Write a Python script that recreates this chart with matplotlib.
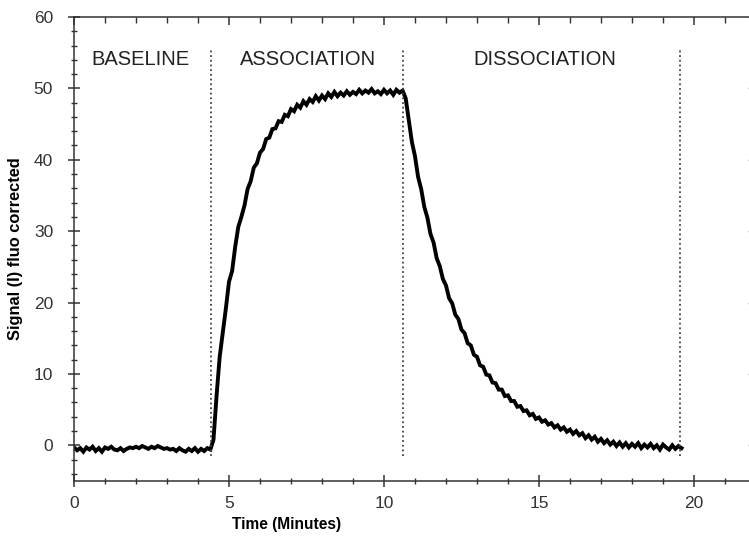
import numpy as np
import matplotlib
matplotlib.use('Agg')
import matplotlib.pyplot as plt
from matplotlib.ticker import MultipleLocator, NullFormatter

# sampled every 0.1 min
baseline_t = np.round(np.arange(0.0, 4.45, 0.1), 1)
baseline_y = [-0.3, -0.7, -0.4, -0.9, -0.3, -0.6, -0.2, -0.8, -0.4, -0.9,
              -0.3, -0.5, -0.2, -0.6, -0.7, -0.4, -0.8, -0.5, -0.3, -0.4,
              -0.2, -0.4, -0.1, -0.3, -0.5, -0.2, -0.4, -0.1, -0.3, -0.5,
              -0.4, -0.6, -0.5, -0.8, -0.4, -0.7, -0.9, -0.5, -0.8, -0.4,
              -0.9, -0.5, -0.8, -0.4, -0.6]

assoc_t = np.round(np.arange(4.5, 10.65, 0.1), 1)
assoc_y = [0.8, 7.0, 12.4, 15.8, 19.2,
           22.9, 24.4, 27.8, 30.6, 32.0, 33.6, 35.9, 37.0, 38.9, 39.5,
           41.0, 41.5, 42.9, 43.1, 44.3, 44.4, 45.4, 45.3, 46.3, 46.1,
           47.1, 46.8, 47.7, 47.3, 48.2, 47.7, 48.5, 48.1, 48.9, 48.3,
           49.0, 48.5, 49.3, 48.8, 49.5, 48.9, 49.4, 49.0, 49.6, 49.1,
           49.5, 49.2, 49.8, 49.3, 49.7, 49.4, 49.9, 49.3, 49.6, 49.2,
           49.8, 49.3, 49.7, 49.1, 49.8, 49.4, 49.7]

dissoc_t = np.round(np.arange(10.7, 19.65, 0.1), 1)
dissoc_y = [48.6, 45.6, 42.5,
            40.5, 37.6, 35.9, 33.4, 31.9, 29.6, 28.4, 26.2, 25.1, 23.3,
            22.4, 20.6, 19.9, 18.3, 17.7, 16.2, 15.7, 14.3, 14.0, 12.7,
            12.4, 11.2, 11.0, 9.9, 9.8, 8.8, 8.7, 7.8, 7.8, 6.9,
            7.0, 6.2, 6.2, 5.4, 5.5, 4.8, 4.9, 4.2, 4.4, 3.7,
            3.9, 3.3, 3.5, 2.9, 3.1, 2.5, 2.8, 2.2, 2.5, 1.9,
            2.2, 1.6, 2.0, 1.4, 1.7, 1.0, 1.4, 0.8, 1.2, 0.5,
            0.9, 0.3, 0.7, 0.1, 0.5, -0.1, 0.4, -0.2, 0.3, -0.3,
            0.2, -0.2, 0.3, -0.4, 0.1, -0.3, 0.2, -0.4, 0.0, -0.6,
            0.1, -0.3, -0.6, 0.0, -0.5, -0.1, -0.4]

phase_bounds = [4.42, 10.62, 19.55]
phase_names = ['BASELINE', 'ASSOCIATION', 'DISSOCIATION']
phase_centers = [2.15, 7.55, 15.2]

plt.rcParams['font.family'] = ['Liberation Sans', 'DejaVu Sans']

fig = plt.figure(figsize=(7.49, 5.43), dpi=100)
ax = fig.add_axes([0.0988, 0.1142, 0.9105, 0.8545])

t = np.concatenate([baseline_t, assoc_t, dissoc_t])
y = np.concatenate([baseline_y, assoc_y, dissoc_y])
ax.plot(t, y, color='black', lw=2.8, solid_joinstyle='miter')

for xb in phase_bounds:
    ax.plot([xb, xb], [-1.5, 55.6], color='#444444', lw=1.3,
            linestyle=(0, (1, 1.6)))

for xc, name in zip(phase_centers, phase_names):
    ax.text(xc, 54.0, name, ha='center', va='center', fontsize=14.5,
            color='#222222')

ax.set_xlim(0, 22)
ax.set_ylim(-5, 60)
ax.xaxis.set_major_locator(MultipleLocator(5))
ax.xaxis.set_minor_locator(MultipleLocator(1))
ax.yaxis.set_major_locator(MultipleLocator(10))
ax.yaxis.set_minor_locator(MultipleLocator(2))

for s in ax.spines.values():
    s.set_color('#333333')
    s.set_linewidth(1.1)

ax.tick_params(which='major', direction='inout', length=8, width=1.1,
               color='#333333', labelsize=12.5, labelcolor='#333333')
ax.tick_params(which='minor', direction='inout', length=5, width=1.0,
               color='#333333')
ax.tick_params(axis='x', which='major', pad=7)
ax.tick_params(axis='y', which='major', pad=11)

# top and right ticks point inward only
top = ax.secondary_xaxis('top')
top.xaxis.set_major_locator(MultipleLocator(5))
top.xaxis.set_minor_locator(MultipleLocator(1))
top.xaxis.set_major_formatter(NullFormatter())
top.tick_params(which='major', direction='in', length=6, width=1.1, color='#333333')
top.tick_params(which='minor', direction='in', length=4, width=1.0, color='#333333')
top.spines['top'].set_visible(False)

right = ax.secondary_yaxis('right')
right.yaxis.set_major_locator(MultipleLocator(10))
right.yaxis.set_minor_locator(MultipleLocator(2))
right.yaxis.set_major_formatter(NullFormatter())
right.tick_params(which='major', direction='in', length=6, width=1.0, color='#999999')
right.tick_params(which='minor', direction='in', length=0)
right.spines['right'].set_visible(False)

ax.set_xlabel('Time (Minutes)', fontsize=11.2, fontweight='bold')
ax.set_ylabel('Signal (I) fluo corrected', fontsize=11.8, fontweight='bold')
ax.xaxis.set_label_coords(0.312, -0.078)
ax.yaxis.set_label_coords(-0.075, 0.5)

fig.savefig('out.png', dpi=100)
